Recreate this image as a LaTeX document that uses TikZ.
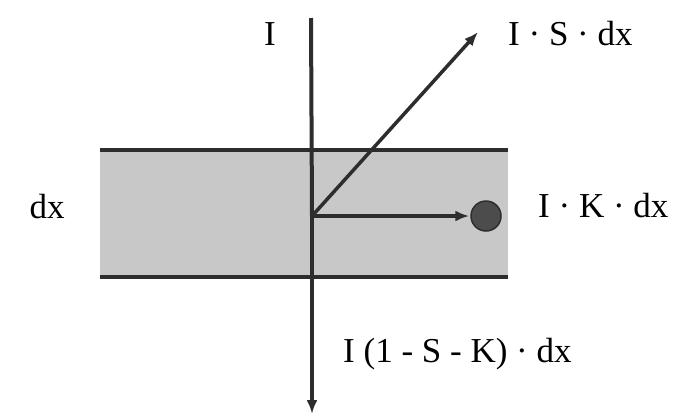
\documentclass[tikz,border=0pt]{standalone}
\usepackage{fontspec}
\setmainfont{Liberation Serif}
\usetikzlibrary{arrows.meta,positioning}
\definecolor{bandgray}{RGB}{200,200,200}
\definecolor{inkgray}{RGB}{45,45,45}
\tikzset{
    ray/.style={
        -{Latex[length=14pt,width=11pt]},line width=3.5pt,draw=inkgray
    },
    edge/.style={
        line width=4pt,draw=inkgray
    },
    lbl/.style={
        font=\fontsize{35}{40}\selectfont,text=black,inner sep=0pt
    }
}
\begin{document}
\begin{tikzpicture}[x=1pt,y=-1pt]
\useasboundingbox (0,0) rectangle (677,418);

% absorbing layer
\fill[bandgray] (100,150) rectangle (508,277);
\coordinate (tl) at (100,150);
\coordinate (tr) at (508,150);
\coordinate (bl) at (100,277);
\coordinate (br) at (508,277);
\draw[edge] (tl)--(tr);
\draw[edge] (bl)--(br);

\coordinate (top) at (311,18);
\coordinate (o) at (312,216);
\coordinate (bot) at (312,414);
\coordinate (sc) at (478,32);
\node[circle,fill=inkgray!85,draw=inkgray,line width=1.5pt,
minimum size=30pt,inner sep=0pt] (k) at (486,216){};

\draw[edge] (top)--(o);
\draw[ray] (o)--(bot);
\draw[ray] (o)--(sc);
\draw[ray,shorten >=1pt] (o)--(k.west);

\node[lbl,anchor=base] (i) at (270,45){I};
\node[lbl,anchor=base west] (is) at (508,45){I · S · dx};
\node[lbl,anchor=base] (d) at (47,218){dx};
\node[lbl,anchor=base west] (ik) at (538,217){I · K · dx};
\node[lbl,anchor=base west] (it) at (343,362){I (1 - S - K) · dx};

\end{tikzpicture}
\end{document}
